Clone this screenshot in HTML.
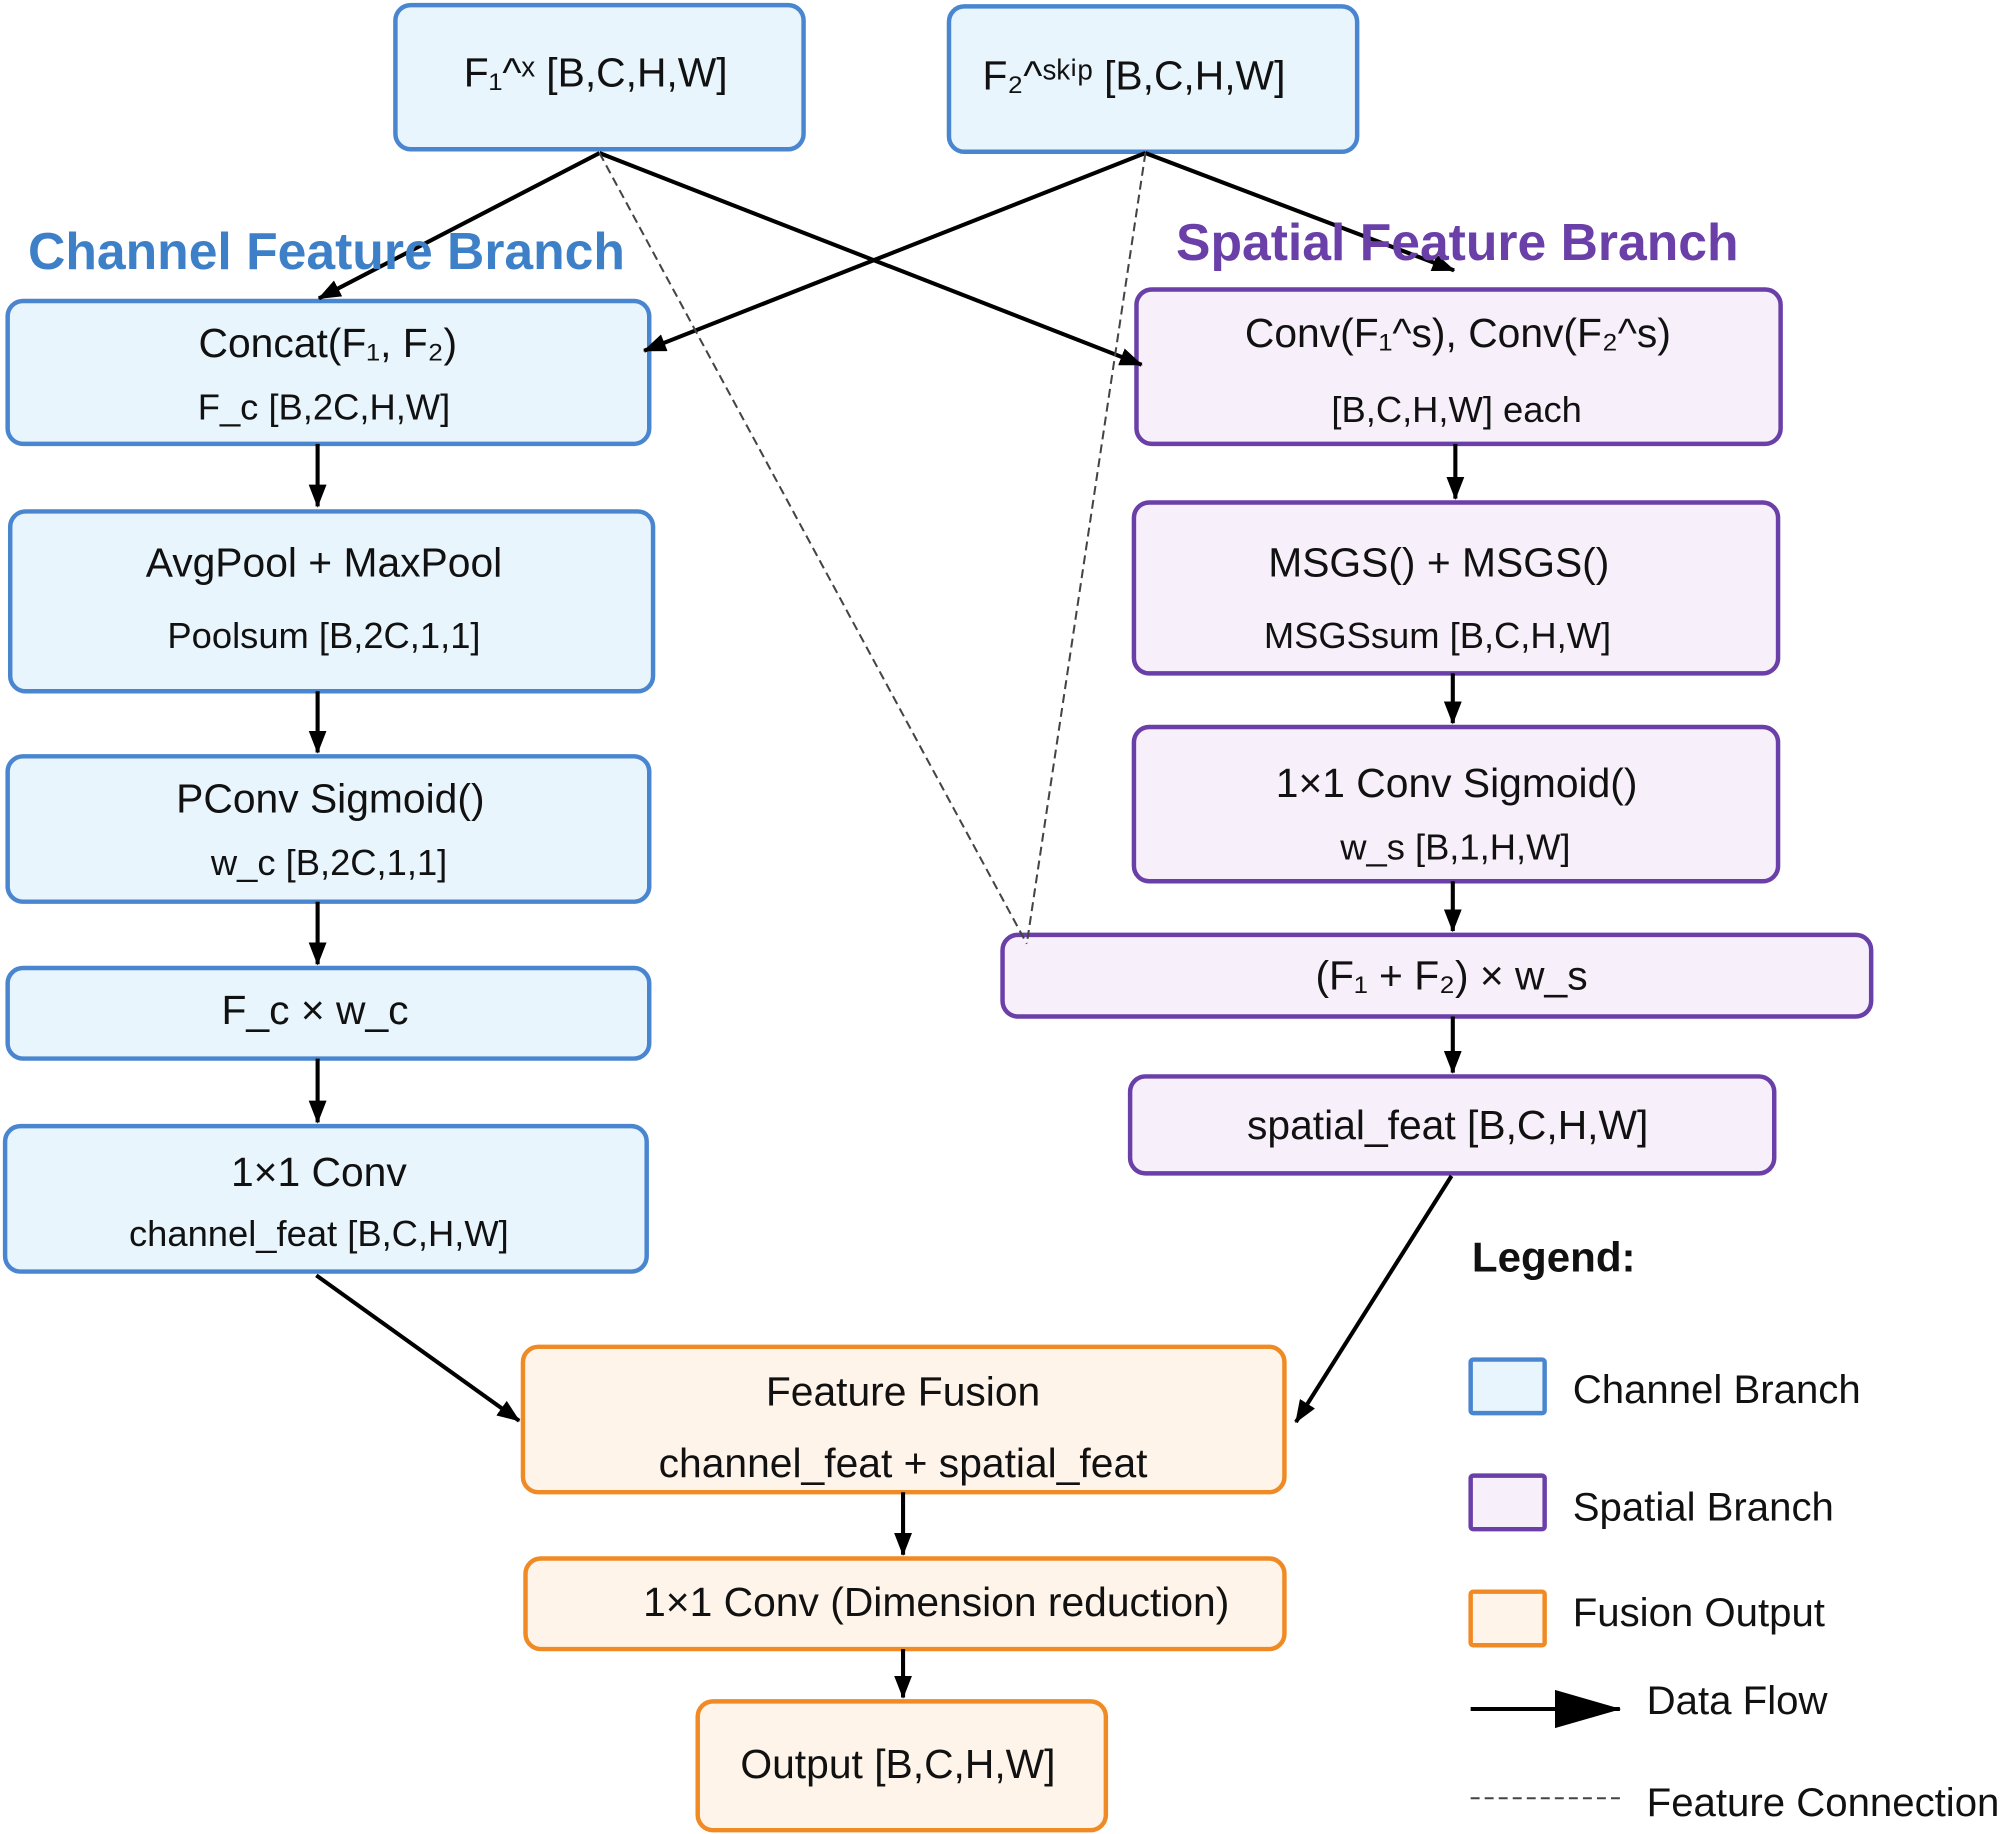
<!DOCTYPE html>
<html><head><meta charset="utf-8"><style>
html,body{margin:0;padding:0;background:#fff;}
svg{display:block;}
text{font-family:"Liberation Sans",Arial,sans-serif;fill:#111;}
</style></head><body>
<svg width="2000" height="1834" viewBox="0 0 1568 1438" preserveAspectRatio="none" xmlns="http://www.w3.org/2000/svg">
<defs>
<marker id="ah" markerWidth="18" markerHeight="14" refX="17" refY="7" orient="auto" markerUnits="userSpaceOnUse" viewBox="0 0 18 14">
<path d="M0,0 L18,7 L0,14 z" fill="#000"/></marker>
<marker id="ah2" markerWidth="52" markerHeight="30" refX="51" refY="15" orient="auto" markerUnits="userSpaceOnUse" viewBox="0 0 52 30">
<path d="M0,0 L52,15 L0,30 z" fill="#000"/></marker>
</defs>
<g stroke="#4a86d0" stroke-width="3.5" fill="#e8f5fd">
<rect x="310" y="4" width="320" height="113" rx="12"/>
<rect x="744" y="5" width="320" height="114" rx="12"/>
<rect x="6" y="236" width="503" height="112" rx="12"/>
<rect x="8" y="401" width="504" height="141" rx="12"/>
<rect x="6" y="593" width="503" height="114" rx="12"/>
<rect x="6" y="759" width="503" height="71" rx="12"/>
<rect x="4" y="883" width="503" height="114" rx="12"/>
<rect x="1153" y="1066" width="58" height="42" rx="2"/>
</g>
<g stroke="#6a3fa8" stroke-width="3.5" fill="#f7eff9">
<rect x="891" y="227" width="505" height="121" rx="12"/>
<rect x="889" y="394" width="505" height="134" rx="12"/>
<rect x="889" y="570" width="505" height="121" rx="12"/>
<rect x="786" y="733" width="681" height="64" rx="12"/>
<rect x="886" y="844" width="505" height="76" rx="12"/>
<rect x="1153" y="1157" width="58" height="42" rx="2"/>
</g>
<g stroke="#f08a24" stroke-width="3.5" fill="#fef4e9">
<rect x="410" y="1056" width="597" height="114" rx="12"/>
<rect x="412" y="1222" width="595" height="71" rx="12"/>
<rect x="547" y="1334" width="320" height="101" rx="12"/>
<rect x="1153" y="1248" width="58" height="42" rx="2"/>
</g>
<g stroke="#000" stroke-width="3.2" fill="none" marker-end="url(#ah)">
<line x1="470" y1="120" x2="250" y2="234"/>
<line x1="470" y1="120" x2="895" y2="286"/>
<line x1="898" y1="120" x2="505" y2="275"/>
<line x1="898" y1="120" x2="1140" y2="212"/>
<line x1="249" y1="348" x2="249" y2="397"/>
<line x1="249" y1="542" x2="249" y2="590"/>
<line x1="249" y1="707" x2="249" y2="756"/>
<line x1="249" y1="830" x2="249" y2="880"/>
<line x1="1141" y1="348" x2="1141" y2="391"/>
<line x1="1139" y1="528" x2="1139" y2="567"/>
<line x1="1139" y1="691" x2="1139" y2="730"/>
<line x1="1139" y1="797" x2="1139" y2="841"/>
<line x1="248" y1="1000" x2="407" y2="1114"/>
<line x1="1138" y1="922" x2="1016" y2="1115"/>
<line x1="708" y1="1170" x2="708" y2="1219"/>
<line x1="708" y1="1293" x2="708" y2="1331"/>
</g>
<g stroke="#444" stroke-width="1.6" stroke-dasharray="7,4" fill="none">
<line x1="470" y1="120" x2="805" y2="740"/>
<line x1="898" y1="120" x2="805" y2="740"/>
<line x1="1153" y1="1410" x2="1270" y2="1410"/>
</g>
<line x1="1153" y1="1340" x2="1270" y2="1340" stroke="#000" stroke-width="3.2" marker-end="url(#ah2)"/>
<text x="22" y="211" font-size="40.5" font-weight="bold" style="fill:#3d80c8">Channel Feature Branch</text>
<text x="922" y="204" font-size="40.5" font-weight="bold" style="fill:#6a3fa8">Spatial Feature Branch</text>
<g font-size="32" text-anchor="middle">
<text x="467" y="68">F₁^ˣ [B,C,H,W]</text>
<text x="889" y="70">F₂^ˢᵏⁱᵖ [B,C,H,W]</text>
<text x="257" y="280">Concat(F₁, F₂)</text>
<text x="254" y="452">AvgPool + MaxPool</text>
<text x="259" y="637">PConv Sigmoid()</text>
<text x="247" y="803">F_c × w_c</text>
<text x="250" y="930">1×1 Conv</text>
<text x="1143" y="272">Conv(F₁^s), Conv(F₂^s)</text>
<text x="1128" y="452">MSGS() + MSGS()</text>
<text x="1142" y="625">1×1 Conv Sigmoid()</text>
<text x="1138" y="776">(F₁ + F₂) × w_s</text>
<text x="1135" y="893">spatial_feat [B,C,H,W]</text>
<text x="708" y="1102">Feature Fusion</text>
<text x="708" y="1158">channel_feat + spatial_feat</text>
<text x="734" y="1267">1×1 Conv (Dimension reduction)</text>
<text x="704" y="1394">Output [B,C,H,W]</text>
</g>
<g font-size="28.5" text-anchor="middle">
<text x="254" y="329">F_c [B,2C,H,W]</text>
<text x="254" y="508">Poolsum [B,2C,1,1]</text>
<text x="258" y="686">w_c [B,2C,1,1]</text>
<text x="250" y="977">channel_feat [B,C,H,W]</text>
<text x="1142" y="331">[B,C,H,W] each</text>
<text x="1127" y="508">MSGSsum [B,C,H,W]</text>
<text x="1141" y="674">w_s [B,1,H,W]</text>
</g>
<text x="1154" y="997" font-size="33" font-weight="bold">Legend:</text>
<g font-size="31.5">
<text x="1233" y="1100">Channel Branch</text>
<text x="1233" y="1192">Spatial Branch</text>
<text x="1233" y="1275">Fusion Output</text>
<text x="1291" y="1344">Data Flow</text>
<text x="1291" y="1424">Feature Connection</text>
</g>
</svg>
</body></html>
